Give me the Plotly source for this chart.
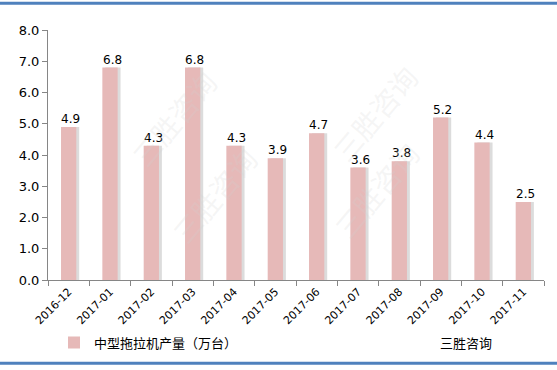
import plotly.graph_objects as go

categories = ["2016-12", "2017-01", "2017-02", "2017-03", "2017-04", "2017-05",
              "2017-06", "2017-07", "2017-08", "2017-09", "2017-10", "2017-11"]
values = [4.9, 6.8, 4.3, 6.8, 4.3, 3.9, 4.7, 3.6, 3.8, 5.2, 4.4, 2.5]
tick_vals = [0, 1, 2, 3, 4, 5, 6, 7, 8]
series_name = "中型拖拉机产量（万台）"
source_text = "三胜咨询"

W, H = 557, 370
L, R, T, B = 48, 13, 30, 88
PW, PH = W - L - R, H - T - B
latin = "Verdana, DejaVu Sans, sans-serif"
cjk = "Noto Sans CJK SC"


def px(x):
    return (x - L) / PW


def py(y):
    return (H - B - y) / PH


fig = go.Figure()
bw = 0.37
# shadow
fig.add_trace(go.Bar(x=categories, y=values, width=bw, offset=-bw / 2 + 0.07,
                     marker=dict(color="#DCDCDC", line=dict(width=0)),
                     showlegend=False, hoverinfo="skip"))
fig.add_trace(go.Bar(x=categories, y=values, width=bw, offset=-bw / 2,
                     marker=dict(color="#E6B9B8", line=dict(width=0)),
                     name=series_name))

for c, v in zip(categories, values):
    fig.add_annotation(x=c, y=v, text=f"{v:.1f}", showarrow=False,
                       yanchor="bottom", xshift=2, yshift=-1,
                       font=dict(family=latin, size=12, color="#000000"))

# watermarks
for (wx, wy) in [(120, 60), (375, 55), (160, 255), (430, 250)]:
    fig.add_annotation(xref="paper", yref="paper", x=px(wx), y=py(wy),
                       text="三胜咨询", textangle=-50, showarrow=False,
                       font=dict(family=cjk, size=28, color="rgba(210,210,210,0.22)"))

fig.add_annotation(xref="paper", yref="paper", x=px(438), y=py(345),
                   xanchor="left", yanchor="middle", text=source_text,
                   showarrow=False, font=dict(family=cjk, size=13, color="#000000"))

fig.add_shape(type="line", xref="paper", yref="paper",
              x0=px(0), x1=px(W), y0=py(3), y1=py(3),
              line=dict(color="#4F81BD", width=3))
fig.add_shape(type="line", xref="paper", yref="paper",
              x0=px(0), x1=px(W), y0=py(366), y1=py(366),
              line=dict(color="#4F81BD", width=3))

fig.update_layout(
    width=W, height=H,
    margin=dict(l=L, r=R, t=T, b=B, pad=0),
    paper_bgcolor="white", plot_bgcolor="white",
    barmode="overlay",
    showlegend=True,
    legend=dict(orientation="h", x=px(54), xanchor="left",
                y=py(345), yanchor="middle",
                font=dict(family=cjk, size=13, color="#000000"),
                bgcolor="rgba(0,0,0,0)"),
    xaxis=dict(type="category", showline=True, linecolor="#868686", linewidth=1,
               ticks="outside", ticklen=5, tickcolor="#868686", tickson="boundaries",
               tickangle=-45, showgrid=False, automargin=False,
               tickfont=dict(family=latin, size=11, color="#000000")),
    yaxis=dict(range=[0, 8], tickvals=tick_vals,
               ticktext=[f"{v:.1f}" for v in tick_vals],
               showline=True, linecolor="#868686", linewidth=1,
               ticks="outside", ticklen=5, tickcolor="#868686",
               showgrid=False, zeroline=False, automargin=False,
               tickfont=dict(family=latin, size=13, color="#000000")),
)

fig.write_html("out.html", config={"displayModeBar": False},
               post_script="document.body.style.margin='0';document.body.style.overflow='hidden';")
